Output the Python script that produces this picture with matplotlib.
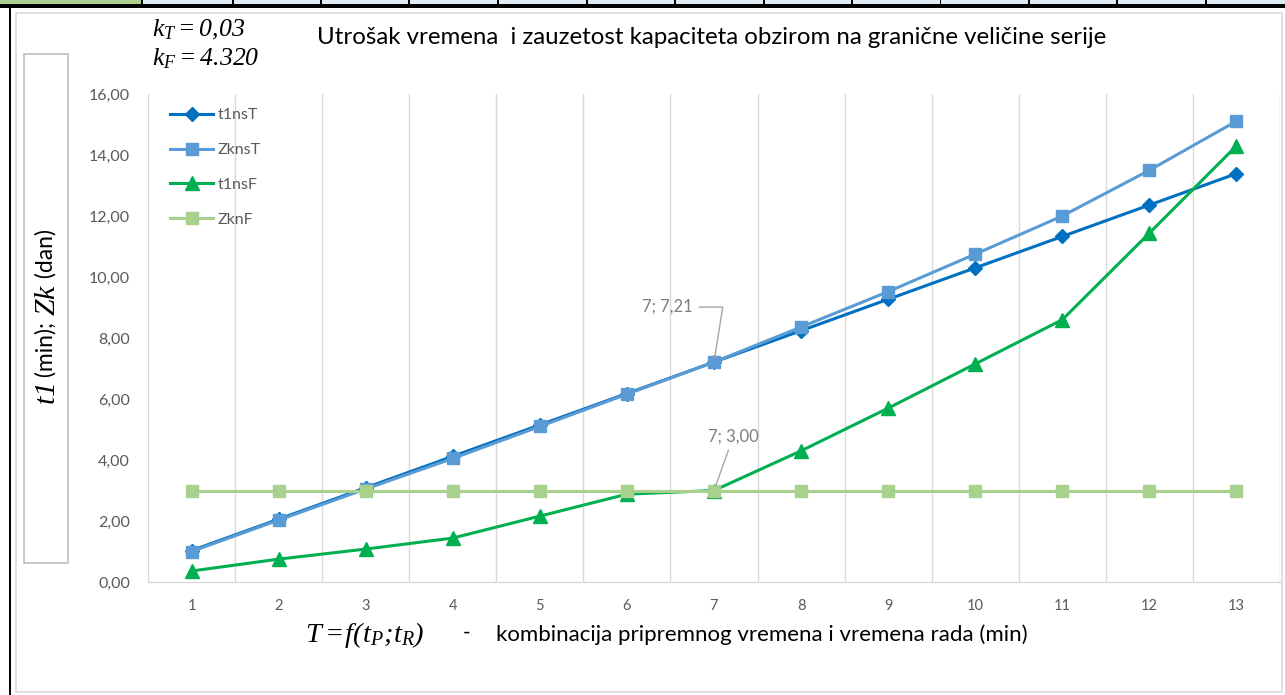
import matplotlib
matplotlib.use("Agg")
import matplotlib.pyplot as plt
from matplotlib.patches import Rectangle

# ---- data -------------------------------------------------------------
categories = [1, 2, 3, 4, 5, 6, 7, 8, 9, 10, 11, 12, 13]
category_labels = ["1", "2", "3", "4", "5", "6", "7", "8", "9", "10", "11", "12", "13"]

t1nsT = [1.03, 2.06, 3.09, 4.12, 5.15, 6.18, 7.21, 8.24, 9.27, 10.30, 11.33, 12.36, 13.39]
ZknsT = [1.00, 2.03, 3.05, 4.05, 5.10, 6.16, 7.21, 8.36, 9.52, 10.75, 12.00, 13.50, 15.11]
t1nsF = [0.36, 0.75, 1.08, 1.44, 2.16, 2.88, 3.00, 4.30, 5.70, 7.15, 8.60, 11.44, 14.30]
ZknF = [3.00, 3.00, 3.00, 3.00, 3.00, 3.00, 3.00, 3.00, 3.00, 3.00, 3.00, 3.00, 3.00]

y_ticks = [0, 2, 4, 6, 8, 10, 12, 14, 16]
y_tick_labels = ["0,00", "2,00", "4,00", "6,00", "8,00", "10,00", "12,00", "14,00", "16,00"]

title = "Utrošak vremena  i zauzetost kapaciteta obzirom na granične veličine serije"
k_T_text = r"$k_T = 0{,}03$"
k_F_text = r"$k_F = 4.320$"
y_label_parts = [(r"$t1$", 21.5), (" (min); ", 16.5), (r"$Zk$", 21.5), (" (dan)", 16.5)]
x_label_formula = r"$T=\!f(t_P;\!t_R)$"
x_label_text = "kombinacija pripremnog vremena i vremena rada (min)"

# ---- fonts --------------------------------------------------------------
plt.rcParams["font.family"] = ["Lato", "DejaVu Sans"]
plt.rcParams["mathtext.fontset"] = "custom"
plt.rcParams["mathtext.it"] = "Liberation Serif:italic"
plt.rcParams["mathtext.rm"] = "Liberation Serif:italic"
plt.rcParams["mathtext.bf"] = "Liberation Serif:italic:bold"

W, H = 1285, 695
fig = plt.figure(figsize=(W / 100, H / 100), dpi=100)
fig.patch.set_facecolor("white")


def fx(x):
    return x / W


def fy(y):
    return 1 - y / H


def frect(x0, y0, x1, y1, z=-5, **kw):
    r = Rectangle((fx(x0), fy(y1)), fx(x1) - fx(x0), fy(y0) - fy(y1),
                  transform=fig.transFigure, zorder=z, **kw)
    fig.patches.append(r)
    return r


# spreadsheet strip along the top edge
frect(0, 0, W, 4, facecolor="#DDEBF7", edgecolor="none")
frect(0, 0, 141, 4, facecolor="#A9D08E", edgecolor="none")
for cx in [141, 232, 320, 408, 497, 586, 674, 763, 851, 940, 1028, 1116, 1205]:
    frect(cx, 0, cx + 1.5, 4, facecolor="black", edgecolor="none")
frect(0, 4, W, 8, facecolor="black", edgecolor="none")
frect(8.5, 4, 11, H, facecolor="black", edgecolor="none")

# chart area frame
frect(16, 13, 1282, 692, facecolor="white", edgecolor="#D9D9D9", linewidth=1.2)

# ---- plot area ------------------------------------------------------------
ax = fig.add_axes([fx(148), fy(582), fx(1280) - fx(148), fy(94) - fy(582)])
ax.set_zorder(2)
ax.set_facecolor("none")
ax.set_xlim(0.5, 13.5)
ax.set_ylim(0, 16)

for b in range(0, 14):
    ax.axvline(b + 0.5, color="#D9D9D9", linewidth=1.0, zorder=0)

for s in ["top", "right", "left"]:
    ax.spines[s].set_visible(False)
ax.spines["bottom"].set_color("#D9D9D9")
ax.spines["bottom"].set_linewidth(1.0)

ax.set_yticks(y_ticks)
ax.set_yticklabels(y_tick_labels)
ax.set_xticks(categories)
ax.set_xticklabels(category_labels)
ax.tick_params(axis="y", length=0, pad=13, labelsize=11.5, labelcolor="#595959")
ax.tick_params(axis="x", length=0, pad=12, labelsize=10.5, labelcolor="#595959")

lw = 2.2
l1, = ax.plot(categories, t1nsT, color="#0070C0", linewidth=lw, marker="D",
              markersize=7, label="t1nsT", zorder=3)
l2, = ax.plot(categories, ZknsT, color="#5B9BD5", linewidth=lw, marker="s",
              markersize=8.5, label="ZknsT", zorder=4)
l3, = ax.plot(categories, t1nsF, color="#00B050", linewidth=lw, marker="^",
              markersize=9.5, label="t1nsF", zorder=5)
l4, = ax.plot(categories, ZknF, color="#A9D18E", linewidth=lw, marker="s",
              markersize=8.5, label="ZknF", zorder=6)

ax.legend(handles=[l1, l2, l3, l4], loc="upper left",
          bbox_to_anchor=(fx(170), fy(108)), bbox_transform=fig.transFigure,
          frameon=False, borderpad=0, borderaxespad=0, handlelength=2.7,
          handletextpad=0.3, labelspacing=1.3, fontsize=11.5,
          labelcolor="#595959", numpoints=1)

# data labels at T = 7
idx = categories.index(7)
ax.annotate(f"7; {ZknsT[idx]:.2f}".replace(".", ","),
            xy=(7, ZknsT[idx]), xytext=(-47, 55), textcoords="offset pixels",
            ha="center", va="center", fontsize=12, color="#7F7F7F",
            arrowprops=dict(arrowstyle="-", color="#A6A6A6", linewidth=1.0,
                            relpos=(1.0, 0.5), shrinkA=3, shrinkB=3,
                            connectionstyle="angle,angleA=0,angleB=81,rad=0"),
            zorder=7)
ax.annotate(f"7; {ZknF[idx]:.2f}".replace(".", ","),
            xy=(7, ZknF[idx]), xytext=(19, 54), textcoords="offset pixels",
            ha="center", va="center", fontsize=12, color="#7F7F7F",
            arrowprops=dict(arrowstyle="-", color="#A6A6A6", linewidth=1.0,
                            relpos=(0.45, 0.0), shrinkA=2, shrinkB=3),
            zorder=7)

# ---- texts ------------------------------------------------------------------
fig.text(fx(712), fy(38), title, ha="center", va="center", fontsize=17.3, color="black")
fig.text(fx(152), fy(30), k_T_text, ha="left", va="center", fontsize=18.5, color="black")
fig.text(fx(152), fy(59), k_F_text, ha="left", va="center", fontsize=18.5, color="black")

# rotated axis title inside its own box, assembled from parts bottom-up
frect(24, 54, 68, 563, z=-4, facecolor="white", edgecolor="#BFBFBF", linewidth=1.2)
renderer = fig.canvas.get_renderer()
ypos = 405.0
for txt, size in y_label_parts:
    t = fig.text(fx(46), fy(ypos), txt, rotation=90, ha="center", va="bottom",
                 fontsize=size, color="black", rotation_mode="default")
    ext = t.get_window_extent(renderer)
    ypos -= ext.height

fig.text(fx(305), fy(635), x_label_formula, ha="left", va="center", fontsize=20.5, color="black")
fig.text(fx(467), fy(633), "-", ha="center", va="center", fontsize=15, color="black")
fig.text(fx(496), fy(635), x_label_text, ha="left", va="center", fontsize=16, color="black")

fig.savefig("out.png", dpi=100)
